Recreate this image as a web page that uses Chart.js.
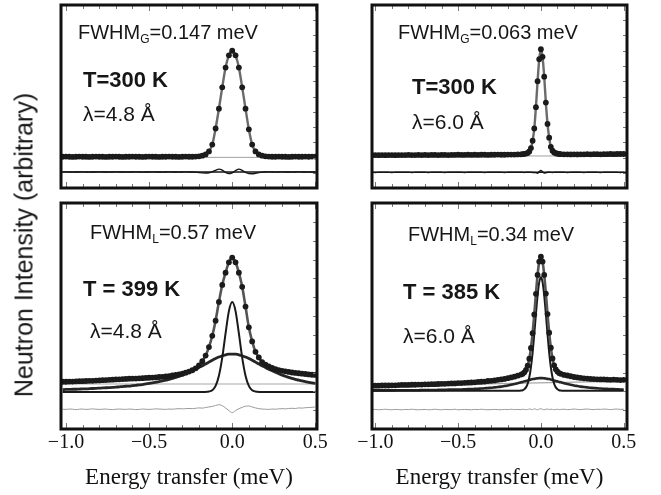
<!DOCTYPE html>
<html>
<head>
<meta charset="utf-8">
<script src="https://cdn.jsdelivr.net/npm/chart.js@4.4.0/dist/chart.umd.min.js"></script>
<style>
  body { margin: 0; background: #fff; }
  #wrap { position: relative; width: 661px; height: 495px; overflow: hidden; font-family: "Liberation Sans", Arial, sans-serif; color: #161616; }
  canvas { position: absolute; left: 0; top: 0; }
  .ann { position: absolute; font-size: 20px; line-height: 1; white-space: nowrap; }
  .ann sub { font-size: 12px; vertical-align: -4px; line-height: 0; }
  .bold { font-weight: bold; font-size: 22px; }
  .lam { font-size: 21px; }
  #ylab { position: absolute; left: 24px; top: 245px; font-size: 25px; line-height: 1; white-space: nowrap;
          transform: translate(-50%, -50%) rotate(-90deg); }
</style>
</head>
<body>
<div id="wrap">
  <canvas id="tl" width="661" height="495"></canvas>
  <canvas id="tr" width="661" height="495"></canvas>
  <canvas id="bl" width="661" height="495"></canvas>
  <canvas id="br" width="661" height="495"></canvas>

  <div class="ann" style="left:78px;top:22px">FWHM<sub>G</sub>=0.147 meV</div>
  <div class="ann bold" style="left:83px;top:69px">T=300 K</div>
  <div class="ann lam" style="left:83px;top:103px">&lambda;=4.8 &Aring;</div>

  <div class="ann" style="left:398px;top:22px">FWHM<sub>G</sub>=0.063 meV</div>
  <div class="ann bold" style="left:412px;top:76px">T=300 K</div>
  <div class="ann lam" style="left:412px;top:111px">&lambda;=6.0 &Aring;</div>

  <div class="ann" style="left:90px;top:222px">FWHM<sub>L</sub>=0.57 meV</div>
  <div class="ann bold" style="left:83px;top:278px">T = 399 K</div>
  <div class="ann lam" style="left:90px;top:320px">&lambda;=4.8 &Aring;</div>

  <div class="ann" style="left:408px;top:224px">FWHM<sub>L</sub>=0.34 meV</div>
  <div class="ann bold" style="left:403px;top:281px">T = 385 K</div>
  <div class="ann lam" style="left:403px;top:325px">&lambda;=6.0 &Aring;</div>

  <div id="ylab">Neutron Intensity (arbitrary)</div>
</div>

<script>
// energy grids (meV): 4.8 A data every 0.02, 6.0 A data finer around the elastic line
const eL = [
  -1.02,-1.00,-0.98,-0.96,-0.94,-0.92,-0.90,-0.88,-0.86,-0.84,
  -0.82,-0.80,-0.78,-0.76,-0.74,-0.72,-0.70,-0.68,-0.66,-0.64,
  -0.62,-0.60,-0.58,-0.56,-0.54,-0.52,-0.50,-0.48,-0.46,-0.44,
  -0.42,-0.40,-0.38,-0.36,-0.34,-0.32,-0.30,-0.28,-0.26,-0.24,
  -0.22,-0.20,-0.18,-0.16,-0.14,-0.12,-0.10,-0.08,-0.06,-0.04,
  -0.02,0.00,0.02,0.04,0.06,0.08,0.10,0.12,0.14,0.16,
  0.18,0.20,0.22,0.24,0.26,0.28,0.30,0.32,0.34,0.36,
  0.38,0.40,0.42,0.44,0.46,0.48,0.50
];
const eR = [
  -1.02,-1.00,-0.98,-0.96,-0.94,-0.92,-0.90,-0.88,-0.86,-0.84,
  -0.82,-0.80,-0.78,-0.76,-0.74,-0.72,-0.70,-0.68,-0.66,-0.64,
  -0.62,-0.60,-0.58,-0.56,-0.54,-0.52,-0.50,-0.48,-0.46,-0.44,
  -0.42,-0.40,-0.38,-0.36,-0.34,-0.32,-0.30,-0.28,-0.26,-0.24,
  -0.22,-0.20,-0.18,-0.16,-0.14,
  -0.12,-0.11,-0.10,-0.09,-0.08,-0.07,-0.06,-0.05,-0.04,-0.03,
  -0.02,-0.01,0.00,0.01,0.02,0.03,0.04,0.05,0.06,0.07,
  0.08,0.09,0.10,0.11,0.12,
  0.14,0.16,0.18,0.20,0.22,0.24,0.26,0.28,0.30,0.32,
  0.34,0.36,0.38,0.40,0.42,0.44,0.46,0.48,0.50
];

// top left: T=300 K, 4.8 A
const intTL = [
  2.05,2.06,2.05,2.04,2.05,2.06,2.05,2.05,2.04,2.05,
  2.06,2.05,2.05,2.04,2.05,2.05,2.06,2.05,2.04,2.05,
  2.05,2.06,2.05,2.05,2.04,2.05,2.06,2.05,2.05,2.04,
  2.05,2.05,2.06,2.05,2.05,2.04,2.05,2.06,2.05,2.05,
  2.06,2.08,2.12,2.20,2.40,2.85,3.90,5.20,6.60,7.90,
  8.70,9.00,8.70,7.90,6.60,5.20,3.85,2.85,2.40,2.20,
  2.12,2.08,2.06,2.05,2.05,2.06,2.05,2.05,2.04,2.05,
  2.06,2.05,2.05,2.06,2.05,2.06,2.06
];
const resTL = [
  1.05,1.06,1.05,1.04,1.05,1.05,1.06,1.05,1.04,1.05,
  1.05,1.06,1.05,1.05,1.04,1.05,1.06,1.05,1.05,1.04,
  1.05,1.05,1.06,1.05,1.04,1.05,1.05,1.06,1.05,1.05,
  1.04,1.05,1.06,1.05,1.05,1.04,1.05,1.06,1.05,1.05,
  1.04,1.02,0.99,0.98,1.00,1.06,1.16,1.24,1.18,1.02,
  0.94,1.00,1.14,1.24,1.16,1.02,0.94,0.93,0.97,1.01,
  1.04,1.05,1.06,1.05,1.04,1.05,1.06,1.05,1.05,1.04,
  1.05,1.06,1.05,1.05,1.04,1.05,1.05
];
const bgTL = 2.01, zeroTL = 1.05;

// top right: T=300 K, 6.0 A
const intTR = [
  2.15,2.16,2.15,2.16,2.15,2.16,2.16,2.15,2.16,2.16,
  2.16,2.17,2.16,2.16,2.17,2.16,2.17,2.16,2.17,2.17,
  2.16,2.17,2.17,2.16,2.17,2.17,2.18,2.17,2.17,2.18,
  2.17,2.18,2.17,2.18,2.18,2.17,2.18,2.18,2.19,2.18,
  2.18,2.19,2.19,2.19,2.20,
  2.21,2.22,2.24,2.26,2.30,2.40,2.62,3.10,3.90,5.30,
  7.00,8.45,9.10,8.60,7.30,5.60,4.20,3.30,2.70,2.45,
  2.33,2.28,2.25,2.23,2.22,
  2.21,2.21,2.20,2.21,2.20,2.21,2.21,2.22,2.21,2.22,
  2.22,2.21,2.22,2.22,2.23,2.22,2.23,2.23,2.23
];
const resTR = [
  1.03,1.02,1.03,1.03,1.04,1.03,1.02,1.03,1.03,1.04,
  1.03,1.03,1.02,1.03,1.04,1.03,1.03,1.02,1.03,1.03,
  1.04,1.03,1.02,1.03,1.03,1.03,1.04,1.03,1.02,1.03,
  1.03,1.04,1.03,1.03,1.02,1.03,1.03,1.04,1.03,1.03,
  1.02,1.03,1.03,1.04,1.03,
  1.03,1.03,1.02,1.03,1.03,1.04,1.03,1.02,1.02,1.00,
  0.97,1.08,1.15,1.07,0.98,1.00,1.03,1.04,1.03,1.02,
  1.03,1.03,1.04,1.03,1.03,
  1.03,1.02,1.03,1.04,1.03,1.03,1.02,1.03,1.03,1.04,
  1.03,1.02,1.03,1.03,1.04,1.03,1.03,1.02,1.03
];
const bgTR = 2.10, zeroTR = 1.03;

// bottom left: T=399 K, 4.8 A
const intBL = [
  2.51,2.51,2.52,2.52,2.53,2.54,2.54,2.55,2.56,2.56,
  2.57,2.58,2.59,2.60,2.61,2.62,2.63,2.64,2.65,2.66,
  2.67,2.68,2.68,2.69,2.70,2.71,2.72,2.73,2.74,2.76,
  2.77,2.79,2.81,2.84,2.87,2.90,2.94,2.99,3.05,3.12,
  3.22,3.38,3.60,3.90,4.35,4.95,5.75,6.75,7.65,8.30,
  8.85,9.10,8.85,8.30,7.55,6.50,5.40,4.65,4.10,3.80,
  3.55,3.42,3.32,3.24,3.18,3.13,3.09,3.06,3.03,3.00,
  2.98,2.96,2.94,2.92,2.90,2.88,2.87
];
const narrowBL = [
  1.96,1.96,1.96,1.96,1.96,1.96,1.96,1.96,1.96,1.96,
  1.96,1.96,1.96,1.96,1.96,1.96,1.96,1.96,1.96,1.96,
  1.96,1.96,1.96,1.96,1.96,1.96,1.96,1.96,1.96,1.96,
  1.96,1.96,1.96,1.96,1.96,1.96,1.96,1.96,1.96,1.96,
  1.96,1.96,1.96,1.97,1.99,2.06,2.29,2.83,3.79,5.08,
  6.26,6.74,6.26,5.08,3.79,2.83,2.29,2.06,1.99,1.97,
  1.96,1.96,1.96,1.96,1.96,1.96,1.96,1.96,1.96,1.96,
  1.96,1.96,1.96,1.96,1.96,1.96,1.96
];
const broadBL = [
  2.09,2.10,2.10,2.11,2.11,2.12,2.13,2.13,2.14,2.15,
  2.16,2.17,2.18,2.19,2.20,2.21,2.22,2.24,2.25,2.27,
  2.28,2.30,2.32,2.34,2.36,2.39,2.42,2.45,2.48,2.51,
  2.55,2.59,2.64,2.69,2.74,2.80,2.86,2.93,3.01,3.09,
  3.17,3.26,3.36,3.45,3.55,3.65,3.74,3.82,3.88,3.94,
  3.97,3.98,3.97,3.94,3.88,3.82,3.74,3.65,3.55,3.45,
  3.36,3.26,3.17,3.09,3.01,2.93,2.86,2.80,2.74,2.69,
  2.64,2.59,2.55,2.51,2.48,2.45,2.42
];
const resBL = [
  1.05,1.04,1.06,1.05,1.03,1.05,1.06,1.04,1.05,1.07,
  1.05,1.04,1.05,1.06,1.04,1.03,1.05,1.06,1.05,1.04,
  1.06,1.05,1.03,1.04,1.06,1.05,1.04,1.05,1.07,1.06,
  1.05,1.04,1.06,1.05,1.07,1.08,1.07,1.08,1.09,1.08,
  1.10,1.12,1.11,1.14,1.17,1.20,1.25,1.29,1.24,1.12,
  0.98,0.87,0.98,1.08,1.15,1.21,1.22,1.17,1.12,1.08,
  1.06,1.05,1.04,1.06,1.05,1.07,1.08,1.07,1.09,1.10,
  1.09,1.12,1.11,1.13,1.14,1.15,1.17
];
const bgBL = [2.39, 2.39];

// bottom right: T=385 K, 6.0 A
const intBR = [
  2.30,2.30,2.30,2.31,2.31,2.31,2.32,2.32,2.33,2.34,
  2.34,2.34,2.35,2.35,2.36,2.36,2.37,2.37,2.38,2.38,
  2.39,2.40,2.40,2.41,2.42,2.42,2.44,2.44,2.45,2.46,
  2.47,2.48,2.50,2.51,2.52,2.55,2.56,2.58,2.61,2.63,
  2.66,2.70,2.74,2.78,2.83,
  2.89,2.93,3.01,3.14,3.36,3.73,4.30,5.09,6.08,7.18,
  8.18,8.89,9.15,8.89,8.18,7.19,6.10,5.11,4.32,3.75,
  3.38,3.17,3.05,2.97,2.93,
  2.87,2.84,2.80,2.76,2.74,2.71,2.69,2.68,2.66,2.65,
  2.64,2.63,2.63,2.62,2.61,2.62,2.61,2.60,2.61
];
const narrowBR = [
  2.03,2.03,2.03,2.03,2.03,2.03,2.03,2.03,2.03,2.03,
  2.03,2.03,2.03,2.03,2.03,2.03,2.03,2.03,2.03,2.03,
  2.03,2.03,2.03,2.03,2.03,2.03,2.03,2.03,2.03,2.03,
  2.03,2.03,2.03,2.03,2.03,2.03,2.03,2.03,2.03,2.03,
  2.03,2.03,2.03,2.03,2.03,
  2.04,2.06,2.11,2.21,2.40,2.75,3.29,4.06,5.04,6.11,
  7.10,7.80,8.06,7.80,7.10,6.11,5.04,4.06,3.29,2.75,
  2.40,2.21,2.11,2.06,2.04,
  2.03,2.03,2.03,2.03,2.03,2.03,2.03,2.03,2.03,2.03,
  2.03,2.03,2.03,2.03,2.03,2.03,2.03,2.03,2.03
];
const broadBR = [
  2.05,2.05,2.05,2.05,2.05,2.05,2.05,2.05,2.06,2.06,
  2.06,2.06,2.06,2.06,2.06,2.07,2.07,2.07,2.07,2.07,
  2.08,2.08,2.08,2.09,2.09,2.09,2.10,2.10,2.11,2.12,
  2.12,2.13,2.14,2.15,2.16,2.18,2.19,2.21,2.23,2.25,
  2.28,2.31,2.35,2.39,2.43,
  2.48,2.50,2.53,2.55,2.58,2.60,2.63,2.65,2.66,2.68,
  2.69,2.70,2.70,2.70,2.69,2.68,2.66,2.65,2.63,2.60,
  2.58,2.55,2.53,2.50,2.48,
  2.43,2.39,2.35,2.31,2.28,2.25,2.23,2.21,2.19,2.18,
  2.16,2.15,2.14,2.13,2.12,2.12,2.11,2.10,2.10
];
const resBR = [
  1.03,1.04,1.02,1.03,1.05,1.03,1.02,1.04,1.03,1.02,
  1.04,1.03,1.05,1.03,1.02,1.03,1.04,1.02,1.03,1.05,
  1.03,1.02,1.04,1.03,1.03,1.05,1.02,1.03,1.04,1.03,
  1.02,1.04,1.03,1.05,1.03,1.02,1.03,1.04,1.03,1.02,
  1.04,1.03,1.05,1.03,1.04,
  1.03,1.05,1.04,1.02,1.04,1.06,1.05,1.03,1.07,1.05,
  1.02,1.06,1.08,1.04,1.02,1.05,1.06,1.03,1.05,1.04,
  1.02,1.04,1.05,1.03,1.04,
  1.05,1.03,1.04,1.06,1.04,1.03,1.05,1.06,1.04,1.03,
  1.05,1.04,1.06,1.05,1.03,1.05,1.06,1.04,1.05
];
const bgBR = [2.28, 2.54];

const xrL = [-1.03, 0.51];
const xrR = [-1.02, 0.52];
const tickLabelsX = [-1.0, -0.5, 0.0, 0.5];
const minorX = [-1.0,-0.9,-0.8,-0.7,-0.6,-0.5,-0.4,-0.3,-0.2,-0.1,0.0,0.1,0.2,0.3,0.4,0.5];
const minorY = [1,2,3,4,5,6,7,8,9,10,11];

const serif = '"Liberation Serif", "Times New Roman", serif';

function pts(xs, ys) {
  return xs.map((x, i) => ({ x: x, y: ys[i] }));
}

function lineSet(xs, ys, color, width, order) {
  return { data: pts(xs, ys), borderColor: color, borderWidth: width, pointRadius: 0,
           cubicInterpolationMode: 'monotone', fill: false, order: order };
}

function dotSet(xs, ys) {
  return { data: pts(xs, ys), showLine: false, pointRadius: 2.9, pointBackgroundColor: '#1b1b1b',
           pointBorderWidth: 0, order: 1 };
}

// thick frame with little inward ticks, like the original plot
const framePlugin = {
  id: 'frame',
  afterDatasetsDraw(chart) {
    const { ctx, chartArea: a, scales: { x, y } } = chart;
    ctx.save();
    ctx.strokeStyle = '#777';
    ctx.lineWidth = 1;
    ctx.beginPath();
    minorX.forEach(t => {
      const px = Math.round(x.getPixelForValue(t)) + 0.5;
      const len = Math.abs(t * 2 - Math.round(t * 2)) < 1e-6 ? 6 : 4;
      ctx.moveTo(px, a.top); ctx.lineTo(px, a.top + len);
      ctx.moveTo(px, a.bottom); ctx.lineTo(px, a.bottom - len);
    });
    minorY.forEach(v => {
      const py = Math.round(y.getPixelForValue(v)) + 0.5;
      ctx.moveTo(a.right, py); ctx.lineTo(a.right - 4, py);
    });
    ctx.stroke();
    ctx.strokeStyle = '#111';
    ctx.lineWidth = 3;
    ctx.strokeRect(a.left, a.top, a.right - a.left, a.bottom - a.top);
    ctx.restore();
  }
};

function makeChart(id, padding, xr, datasets, showX) {
  return new Chart(document.getElementById(id), {
    type: 'line',
    data: { datasets: datasets },
    options: {
      responsive: false,
      animation: false,
      events: [],
      layout: { padding: padding },
      plugins: { legend: { display: false }, tooltip: { enabled: false } },
      scales: {
        x: {
          type: 'linear', min: xr[0], max: xr[1], display: showX,
          grid: { display: false, drawTicks: false },
          border: { display: false },
          afterBuildTicks: s => { s.ticks = tickLabelsX.map(v => ({ value: v })); },
          afterFit: s => { if (showX) s.height = 66; },
          ticks: {
            padding: 2, color: '#111', maxRotation: 0, autoSkip: false,
            font: { family: serif, size: 20 },
            callback: v => v.toFixed(1).replace('-', '\u2212')
          },
          title: {
            display: true, text: 'Energy transfer (meV)', color: '#111',
            font: { family: serif, size: 23 }, padding: { top: 0, bottom: 3 }
          }
        },
        y: { type: 'linear', min: 0, max: 12, display: false }
      }
    },
    plugins: [framePlugin]
  });
}

makeChart('tl', { left: 61, top: 5, right: 344, bottom: 307 }, xrL, [
  dotSet(eL, intTL),
  lineSet(eL, intTL, '#6b6b6b', 2.4, 2),
  lineSet(eL, resTL, '#151515', 1.4, 3),
  lineSet(xrL, [zeroTL, zeroTL], '#151515', 1.4, 4),
  lineSet(xrL, [bgTL, bgTL], '#a0a0a0', 1, 6)
], false);

makeChart('tr', { left: 372, top: 5, right: 34, bottom: 307 }, xrR, [
  dotSet(eR, intTR),
  lineSet(eR, intTR, '#6b6b6b', 2.4, 2),
  lineSet(eR, resTR, '#151515', 1.4, 3),
  lineSet(xrR, [zeroTR, zeroTR], '#151515', 1.4, 4),
  lineSet(xrR, [bgTR, bgTR], '#a0a0a0', 1, 6)
], false);

makeChart('bl', { left: 61, top: 203, right: 344, bottom: 0 }, xrL, [
  dotSet(eL, intBL),
  lineSet(eL, intBL, '#555', 2.6, 2),
  lineSet(eL, narrowBL, '#1a1a1a', 2, 3),
  lineSet(eL, broadBL, '#262626', 2.8, 4),
  lineSet(eL, resBL, '#9a9a9a', 1, 5),
  lineSet(xrL, bgBL, '#a8a8a8', 1.2, 6)
], true);

makeChart('br', { left: 372, top: 203, right: 34, bottom: 0 }, xrR, [
  dotSet(eR, intBR),
  lineSet(eR, intBR, '#555', 2.6, 2),
  lineSet(eR, narrowBR, '#1a1a1a', 2, 3),
  lineSet(eR, broadBR, '#262626', 2.6, 4),
  lineSet(eR, resBR, '#9a9a9a', 1, 5),
  lineSet(xrR, bgBR, '#a8a8a8', 1.2, 6)
], true);
</script>
</body>
</html>
